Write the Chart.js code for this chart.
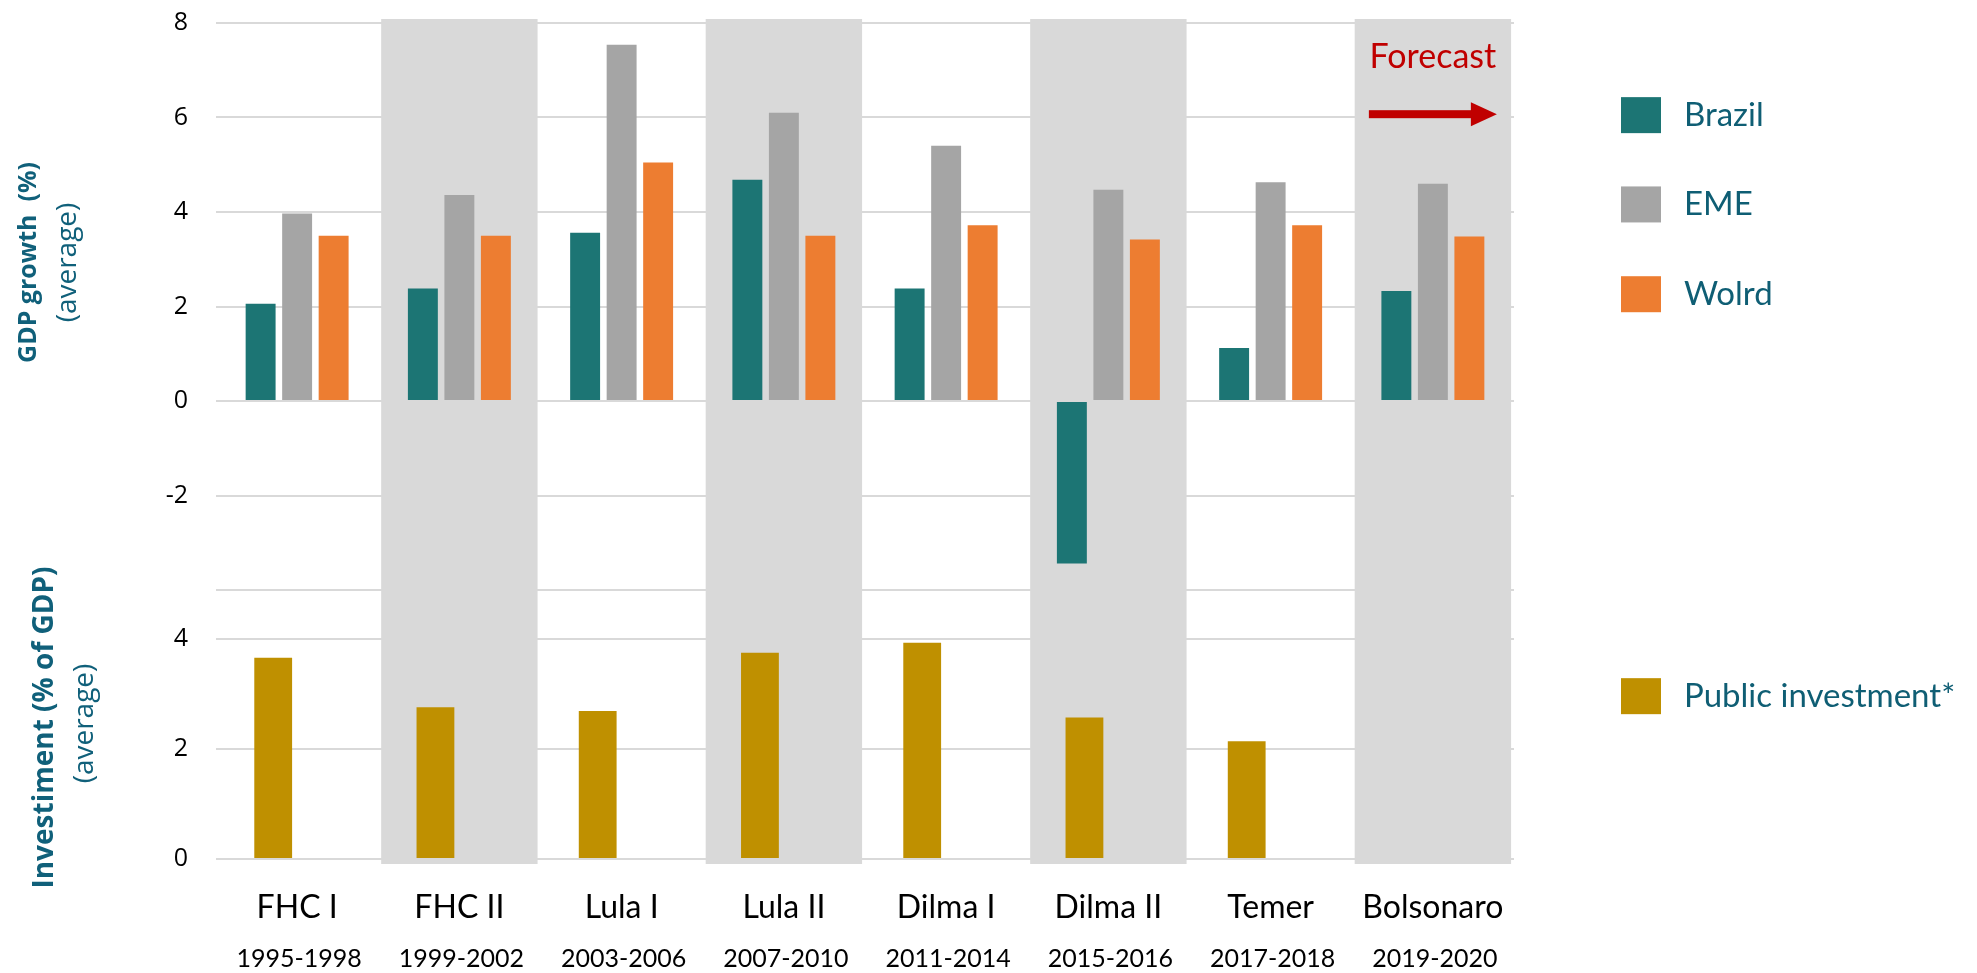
<!DOCTYPE html>
<html>
<head>
<meta charset="utf-8">
<title>Brazil: GDP growth and public investment by presidential term</title>
<script src="https://cdn.jsdelivr.net/npm/chart.js@4.4.1/dist/chart.umd.min.js"></script>
<style>
  html, body { margin: 0; padding: 0; background: #ffffff; overflow: hidden; }
  #wrap { position: relative; width: 1977px; height: 973px; }
  #wrap canvas { position: absolute; left: 0; top: 0; }
</style>
</head>
<body>
<div id="wrap">
  <canvas id="growthChart" width="1977" height="973"></canvas>
  <canvas id="investmentChart" width="1977" height="973"></canvas>
</div>
<script>
// Presidential terms and their years
const terms = ['FHC I', 'FHC II', 'Lula I', 'Lula II', 'Dilma I', 'Dilma II', 'Temer', 'Bolsonaro'];
const periods = ['1995-1998', '1999-2002', '2003-2006', '2007-2010', '2011-2014', '2015-2016', '2017-2018', '2019-2020'];

// Average GDP growth (%) per term
const brazilGrowth = [2.06, 2.38, 3.56, 4.68, 2.38, -3.44, 1.12, 2.33];
const emeGrowth    = [3.97, 4.36, 7.54, 6.10, 5.40, 4.47, 4.63, 4.60];
const worldGrowth  = [3.50, 3.50, 5.05, 3.50, 3.72, 3.42, 3.72, 3.48];

// Average public investment (% of GDP) per term
const publicInvestment = [3.66, 2.76, 2.69, 3.75, 3.93, 2.57, 2.14, null];

// Terms highlighted with a shaded column
const shadedTerms = ['FHC II', 'Lula II', 'Dilma II', 'Bolsonaro'];

// Tick values of the two value axes
const growthTicks = [-4, -2, 0, 2, 4, 6, 8];
const investmentTicks = [0, 2, 4];

const COLORS = {
  brazil: '#1C7574',
  eme: '#A5A5A5',
  world: '#ED7D31',
  investment: '#BF9000',
  shade: '#D9D9D9',
  grid: '#D9D9D9',
  title: '#10607A',
  legendText: '#0F5E74',
  forecast: '#C00000'
};

const LABEL_FONT = 'Lato, "Open Sans", sans-serif';
const TICK_FONT = '"Open Sans", "Noto Sans", sans-serif';

const PLOT_LEFT = 216;      // width reserved for the value axis
const PLOT_RIGHT_PAD = 463; // room for the legend
const SPLIT_Y = 590;        // boundary between the two panels

// Shaded term columns: above the grid, below the bars
function shadePlugin(extendTop, extendBottom) {
  return {
    id: 'termShades',
    beforeDatasetsDraw(chart) {
      const { ctx, chartArea, scales } = chart;
      const x = scales.x;
      const half = (x.getPixelForValue(1) - x.getPixelForValue(0)) * 0.482;
      ctx.save();
      ctx.fillStyle = COLORS.shade;
      shadedTerms.forEach(t => {
        const cx = x.getPixelForValue(terms.indexOf(t));
        const top = chartArea.top - extendTop;
        const bottom = chartArea.bottom + extendBottom;
        ctx.fillRect(cx - half, top, half * 2, bottom - top);
      });
      ctx.restore();
    }
  };
}

function rotatedText(ctx, text, font, cx, cy) {
  ctx.save();
  ctx.translate(cx, cy);
  ctx.rotate(-Math.PI / 2);
  ctx.font = font;
  ctx.fillStyle = COLORS.title;
  ctx.textAlign = 'center';
  ctx.textBaseline = 'middle';
  ctx.fillText(text, 0, 0);
  ctx.restore();
}

function legendEntry(ctx, x, y, color, label) {
  ctx.save();
  ctx.fillStyle = color;
  ctx.fillRect(x, y - 18, 40, 36);
  ctx.font = '33px ' + LABEL_FONT;
  ctx.textBaseline = 'middle';
  ctx.textAlign = 'left';
  ctx.fillStyle = COLORS.legendText;
  ctx.fillText(label, x + 63, y);
  ctx.restore();
}

// Titles, legend and forecast marker of the growth panel
const growthDecor = {
  id: 'growthDecor',
  afterDraw(chart) {
    const { ctx, chartArea, scales } = chart;
    const x = scales.x;
    const y = scales.y;
    const mid = (chartArea.top + chartArea.bottom) / 2 - 44;
    rotatedText(ctx, 'GDP growth  (%)', 'bold 25px ' + TICK_FONT, 29, mid);
    rotatedText(ctx, '(average)', '28px ' + TICK_FONT, 68, mid);

    const lx = chartArea.right + 107;
    legendEntry(ctx, lx, y.getPixelForValue(6.05), COLORS.brazil, 'Brazil');
    legendEntry(ctx, lx, y.getPixelForValue(4.16), COLORS.eme, 'EME');
    legendEntry(ctx, lx, y.getPixelForValue(2.26), COLORS.world, 'Wolrd');

    // Forecast marker over the last term
    const fx = x.getPixelForValue(terms.length - 1);
    ctx.save();
    ctx.fillStyle = COLORS.forecast;
    ctx.font = '34px ' + LABEL_FONT;
    ctx.textAlign = 'center';
    ctx.textBaseline = 'middle';
    ctx.fillText('Forecast', fx, y.getPixelForValue(7.27));
    const ay = y.getPixelForValue(6.07);
    ctx.fillRect(fx - 64, ay - 4, 104, 8);
    ctx.beginPath();
    ctx.moveTo(fx + 38, ay - 12);
    ctx.lineTo(fx + 64, ay);
    ctx.lineTo(fx + 38, ay + 12);
    ctx.closePath();
    ctx.fill();
    ctx.restore();
  }
};

// Titles, period labels and legend of the investment panel
const investmentDecor = {
  id: 'investmentDecor',
  afterDraw(chart) {
    const { ctx, chartArea, scales } = chart;
    const x = scales.x;
    const y = scales.y;

    ctx.save();
    ctx.fillStyle = '#000000';
    ctx.font = '25px ' + LABEL_FONT;
    ctx.textAlign = 'center';
    ctx.textBaseline = 'middle';
    periods.forEach((p, i) => {
      ctx.fillText(p, x.getPixelForValue(i) + 2, chartArea.bottom + 100);
    });
    ctx.restore();

    const mid = (chartArea.top + chartArea.bottom) / 2 + 3;
    rotatedText(ctx, 'Investiment (% of GDP)', 'bold 28px ' + TICK_FONT, 45, mid);
    rotatedText(ctx, '(average)', '28px ' + TICK_FONT, 85, mid - 4);

    legendEntry(ctx, chartArea.right + 107, y.getPixelForValue(2.96), COLORS.investment, 'Public investment*');
  }
};

function valueAxis(min, max, tickValues, hideValue) {
  return {
    type: 'linear',
    position: 'left',
    min: min,
    max: max,
    grid: { color: COLORS.grid, lineWidth: 2, drawTicks: false },
    border: { display: false },
    ticks: {
      color: '#000000',
      font: { family: TICK_FONT, size: 25 },
      padding: 28,
      callback: v => (v === hideValue ? '' : String(v))
    },
    afterBuildTicks(scale) { scale.ticks = tickValues.map(v => ({ value: v })); },
    afterFit(scale) {
      scale.width = PLOT_LEFT;
      // labels fit inside the layout padding; no extra room above/below the axis
      scale.paddingTop = 0;
      scale.paddingBottom = 0;
    }
  };
}

const commonOptions = {
  responsive: false,
  animation: false,
  events: [],
  plugins: { legend: { display: false }, tooltip: { enabled: false } }
};

// Upper panel: GDP growth of Brazil, emerging economies and the world
new Chart(document.getElementById('growthChart'), {
  type: 'bar',
  data: {
    labels: terms,
    datasets: [
      { label: 'Brazil', data: brazilGrowth, backgroundColor: COLORS.brazil },
      { label: 'EME', data: emeGrowth, backgroundColor: COLORS.eme },
      { label: 'Wolrd', data: worldGrowth, backgroundColor: COLORS.world }
    ]
  },
  options: Object.assign({}, commonOptions, {
    datasets: { bar: { categoryPercentage: 0.675, barPercentage: 0.82 } },
    layout: { padding: { top: 23, right: PLOT_RIGHT_PAD, bottom: 973 - SPLIT_Y, left: 0 } },
    scales: {
      x: { type: 'category', offset: true, display: false },
      y: valueAxis(-4, 8, growthTicks, -4)
    }
  }),
  plugins: [shadePlugin(4, 1), growthDecor]
});

// Lower panel: public investment; the empty companion series keeps
// each investment bar in the left half of its term
new Chart(document.getElementById('investmentChart'), {
  type: 'bar',
  data: {
    labels: terms,
    datasets: [
      { label: 'Public investment*', data: publicInvestment, backgroundColor: COLORS.investment },
      { label: 'spacer', data: terms.map(() => null), backgroundColor: 'rgba(0,0,0,0)' }
    ]
  },
  options: Object.assign({}, commonOptions, {
    datasets: { bar: { categoryPercentage: 0.59, barPercentage: 0.79 } },
    layout: { padding: { top: SPLIT_Y, right: PLOT_RIGHT_PAD, bottom: 0, left: 0 } },
    scales: {
      x: {
        type: 'category',
        position: 'bottom',
        offset: true,
        grid: { display: false },
        border: { display: false },
        ticks: {
          color: '#000000',
          font: { family: LABEL_FONT, size: 32 },
          padding: 21,
          maxRotation: 0,
          autoSkip: false
        },
        afterFit(scale) { scale.height = 114; }
      },
      y: valueAxis(0, 4.89, investmentTicks, null)
    }
  }),
  plugins: [shadePlugin(1, 5), investmentDecor]
});
</script>
</body>
</html>
